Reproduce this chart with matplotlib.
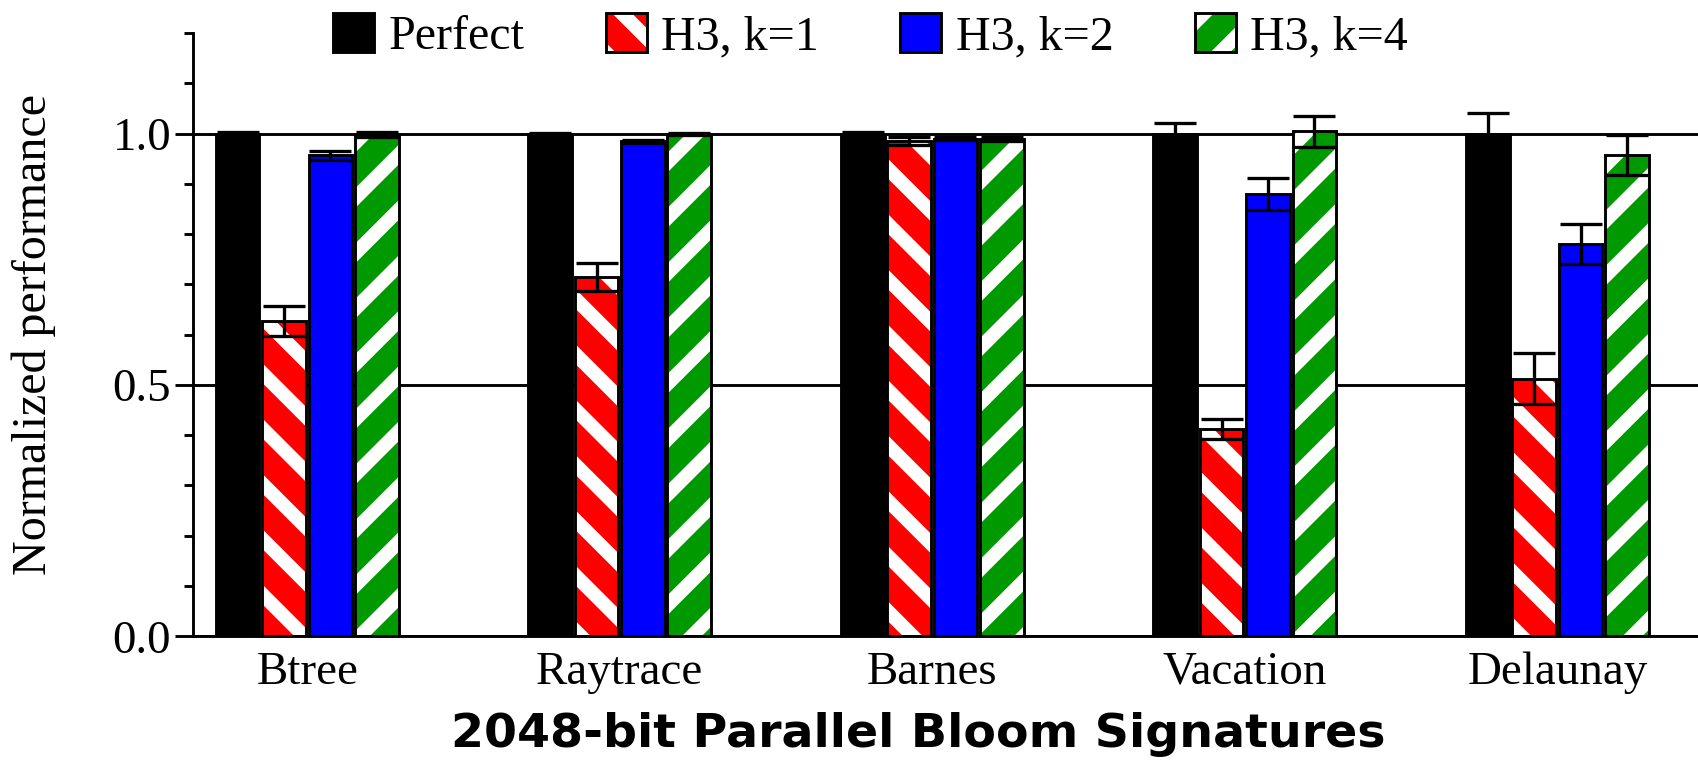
import numpy as np
import matplotlib
matplotlib.use('Agg')
from matplotlib import pyplot as plt
from matplotlib.patches import Patch
from matplotlib.ticker import MultipleLocator

# hatch cell size follows dpi, so pick a dpi that gives the stripe spacing
DPI = 332


def px(n):
    # pixel size -> points at this dpi
    return n * 72.0 / DPI


plt.rcParams['hatch.linewidth'] = px(14)

benchmarks = ['Btree', 'Raytrace', 'Barnes', 'Vacation', 'Delaunay']
series = ['Perfect', 'H3, k=1', 'H3, k=2', 'H3, k=4']

perfect = [1.0, 1.0, 1.0, 1.0, 1.0]
perfect_err = [0.004, 0.002, 0.003, 0.021, 0.041]
k1 = [0.627, 0.715, 0.985, 0.412, 0.512]
k1_err = [0.029, 0.028, 0.008, 0.019, 0.051]
k2 = [0.957, 0.985, 0.990, 0.880, 0.780]
k2_err = [0.009, 0.003, 0.003, 0.032, 0.040]
k4 = [0.998, 1.0, 0.990, 1.005, 0.957]
k4_err = [0.005, 0.002, 0.004, 0.031, 0.040]

values = [perfect, k1, k2, k4]
errors = [perfect_err, k1_err, k2_err, k4_err]
colors = ['black', '#ff0000', '#0000ff', '#009900']
hatches = [None, '\\\\', None, '//']

SERIF = 'Liberation Serif'
LW = px(2.9)
ERR = dict(elinewidth=px(3.3), capthick=px(3.3), ecolor='black')

fig = plt.figure(figsize=(1698.3 / DPI, 765.3 / DPI), dpi=DPI)
ax = fig.add_axes([0.1137, 0.1686, 0.8863, 0.7876])

x = np.arange(len(benchmarks))
w = 0.14
step = 0.1485
handles = []
for i in range(4):
    pos = x + (i - 1.5) * step
    if hatches[i]:
        ax.bar(pos, values[i], w, color=colors[i], edgecolor='white',
               hatch=hatches[i], linewidth=0, zorder=2)
        ax.bar(pos, values[i], w, fill=False, edgecolor='black', linewidth=LW,
               yerr=errors[i], capsize=px(21), error_kw=ERR, zorder=3)
        handles.append((Patch(facecolor=colors[i], edgecolor='white',
                              hatch=hatches[i], linewidth=0),
                        Patch(fill=False, edgecolor='black', linewidth=LW)))
    else:
        ax.bar(pos, values[i], w, color=colors[i], edgecolor='black',
               linewidth=LW, yerr=errors[i], capsize=px(21), error_kw=ERR,
               zorder=3)
        handles.append(Patch(facecolor=colors[i], edgecolor='black', linewidth=LW))

ax.set_xlim(-0.365, 4.451)
ax.set_ylim(0, 1.2)
ax.set_yticks([0.0, 0.5, 1.0])
ax.yaxis.set_minor_locator(MultipleLocator(0.1))
ax.set_yticklabels(['0.0', '0.5', '1.0'], fontfamily=SERIF, fontsize=px(47))
ax.set_xticks(x)
ax.set_xticklabels(benchmarks, fontfamily=SERIF, fontsize=px(47))
ax.tick_params(axis='x', length=0, pad=px(15))
ax.tick_params(axis='y', which='major', direction='out', length=px(18),
               width=LW, pad=px(4))
ax.tick_params(axis='y', which='minor', direction='out', length=px(9), width=LW)

ax.grid(axis='y', which='major', color='black', linewidth=LW, zorder=0)
ax.set_axisbelow(True)
for s in ['top', 'right']:
    ax.spines[s].set_visible(False)
for s in ['left', 'bottom']:
    ax.spines[s].set_linewidth(LW)

ax.set_ylabel('Normalized performance', fontfamily=SERIF, fontsize=px(48),
              va='center')
ax.yaxis.set_label_coords(-0.106, 0.5)
ax.set_xlabel('2048-bit Parallel Bloom Signatures', fontfamily='DejaVu Sans',
              fontweight='bold', fontsize=px(47.5), va='center')
ax.xaxis.set_label_coords(0.482, -0.163)

fig.legend(handles, series, loc='center left', bbox_to_anchor=(333 / 1698, 0.953),
           ncol=4, frameon=False, prop={'family': SERIF, 'size': px(48)},
           handlelength=0.85, handleheight=0.88, handletextpad=0.3,
           columnspacing=1.7, borderpad=0, borderaxespad=0)

fig.savefig('out.png', dpi=DPI)
